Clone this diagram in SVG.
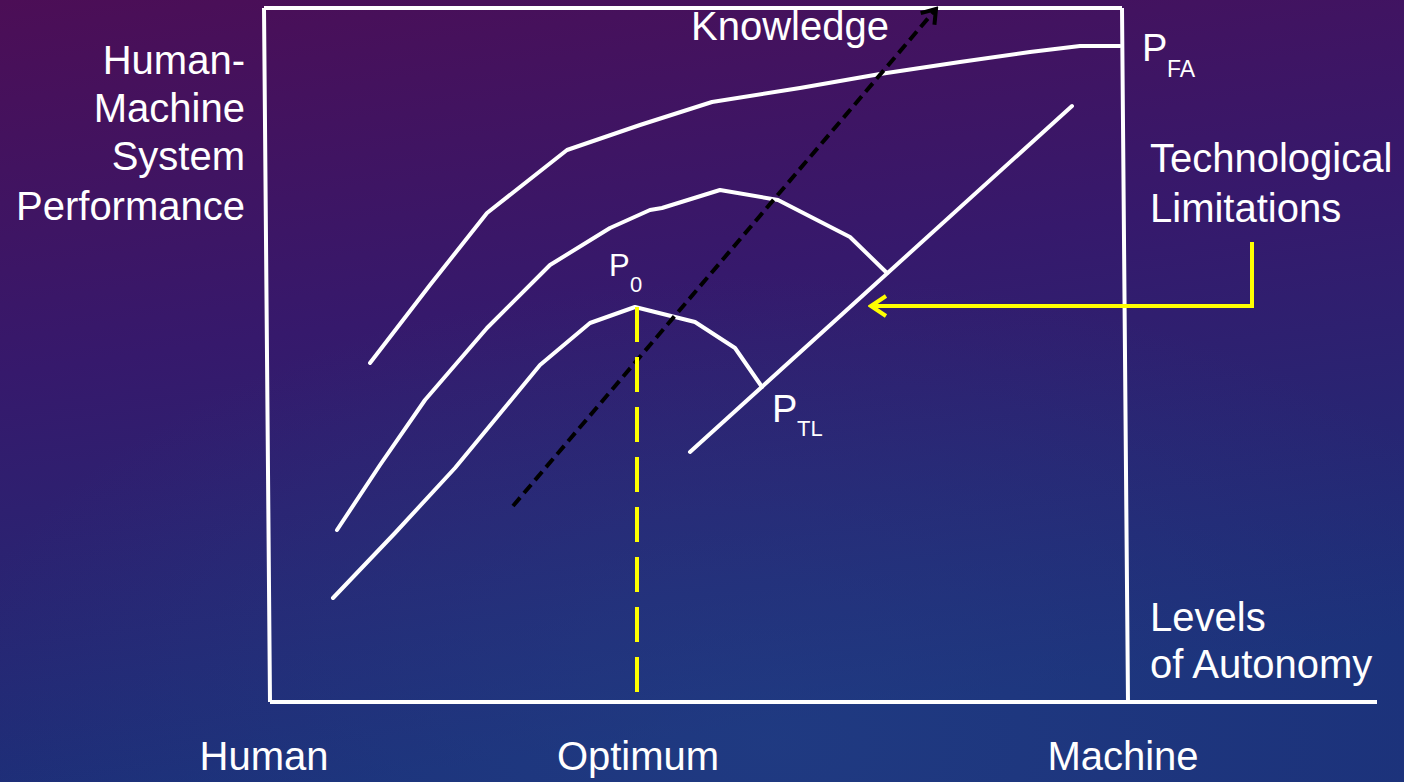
<svg xmlns="http://www.w3.org/2000/svg" width="1404" height="782" viewBox="0 0 1404 782">
<defs>
<linearGradient id="bg" x1="0" y1="0" x2="0.25" y2="1">
<stop offset="0" stop-color="#4c0e56"/>
<stop offset="0.45" stop-color="#36196c"/>
<stop offset="1" stop-color="#1b3079"/>
</linearGradient>
<radialGradient id="glow" cx="0.55" cy="0.95" r="0.6">
<stop offset="0" stop-color="#24448a" stop-opacity="0.5"/>
<stop offset="1" stop-color="#24448a" stop-opacity="0"/>
</radialGradient>
<marker id="blackHead" viewBox="0 0 20 24" refX="17" refY="12" markerWidth="20" markerHeight="24" markerUnits="userSpaceOnUse" orient="auto">
<path d="M4,3 L17,12 L4,21" fill="none" stroke="#000" stroke-width="4"/>
</marker>
<marker id="yellowHead" viewBox="0 0 20 24" refX="17" refY="12" markerWidth="20" markerHeight="24" markerUnits="userSpaceOnUse" orient="auto">
<path d="M2,2 L17,12 L2,22" fill="none" stroke="#ffff00" stroke-width="4"/>
</marker>
</defs>
<style>
.t{font-family:"Liberation Sans",Arial,sans-serif;fill:#ffffff;}
.big{font-size:40px;}
.w{fill:none;stroke:#ffffff;stroke-width:4;stroke-linejoin:round;stroke-linecap:round;}
.box{fill:none;stroke:#ffffff;stroke-width:4;}
</style>
<rect width="1404" height="782" fill="url(#bg)"/>
<rect width="1404" height="782" fill="url(#glow)"/>

<g id="axes">
<path class="box" d="M264,8 L1122,8 M264,8 L270,702 M1122,8 L1128,702 M270,702 L1377,702"/>
</g>

<g id="curve-fa">
<path class="w" d="M370,363 L430,285 L487,213 L567,150 L640,125 L712,102 L800,88 L880,74 L960,62 L1030,52 L1080,46 L1120,46"/>
</g>
<g id="curve-mid">
<path class="w" d="M337,530 L380,465 L425,400 L487,328 L550,265 L610,228 L650,210 L662,208 L720,190 L778,200 L850,237 L887,273"/>
</g>
<g id="curve-low">
<path class="w" d="M333,598 L395,533 L455,468 L540,365 L590,323 L635,307 L695,322 L735,348 L762,387"/>
</g>
<g id="tech-line">
<path class="w" d="M690,452 L1072,106"/>
</g>

<g id="connectors">
<path d="M513,506 L936,9" fill="none" stroke="#000" stroke-width="4" stroke-dasharray="11,6" marker-end="url(#blackHead)"/>
<path d="M637,307 L637,692" fill="none" stroke="#ffff00" stroke-width="4" stroke-dasharray="35,15"/>
<path d="M1252,242 L1252,306 L871,306" fill="none" stroke="#ffff00" stroke-width="4" stroke-linejoin="miter" marker-end="url(#yellowHead)"/>
</g>

<g id="labels">
<text class="t big" x="790" y="40" text-anchor="middle">Knowledge</text>
<text class="t big" text-anchor="end"><tspan x="245" y="74">Human-</tspan><tspan x="245" y="122">Machine</tspan><tspan x="245" y="170">System</tspan><tspan x="245" y="220">Performance</tspan></text>
<text class="t" style="font-size:38px" x="1142" y="61">P<tspan x="1167" y="77" style="font-size:23px">FA</tspan></text>
<text class="t big"><tspan x="1150" y="172">Technological</tspan><tspan x="1150" y="222">Limitations</tspan></text>
<text class="t" style="font-size:31px" x="609" y="276">P<tspan x="630" y="292" style="font-size:22px">0</tspan></text>
<text class="t" style="font-size:38px" x="772" y="422">P<tspan x="797" y="436" style="font-size:22px">TL</tspan></text>
<text class="t big"><tspan x="1150" y="631">Levels</tspan><tspan x="1150" y="678">of Autonomy</tspan></text>
<text class="t big" x="264" y="770" text-anchor="middle">Human</text>
<text class="t big" x="638" y="770" text-anchor="middle">Optimum</text>
<text class="t big" x="1123" y="770" text-anchor="middle">Machine</text>
</g>
</svg>
